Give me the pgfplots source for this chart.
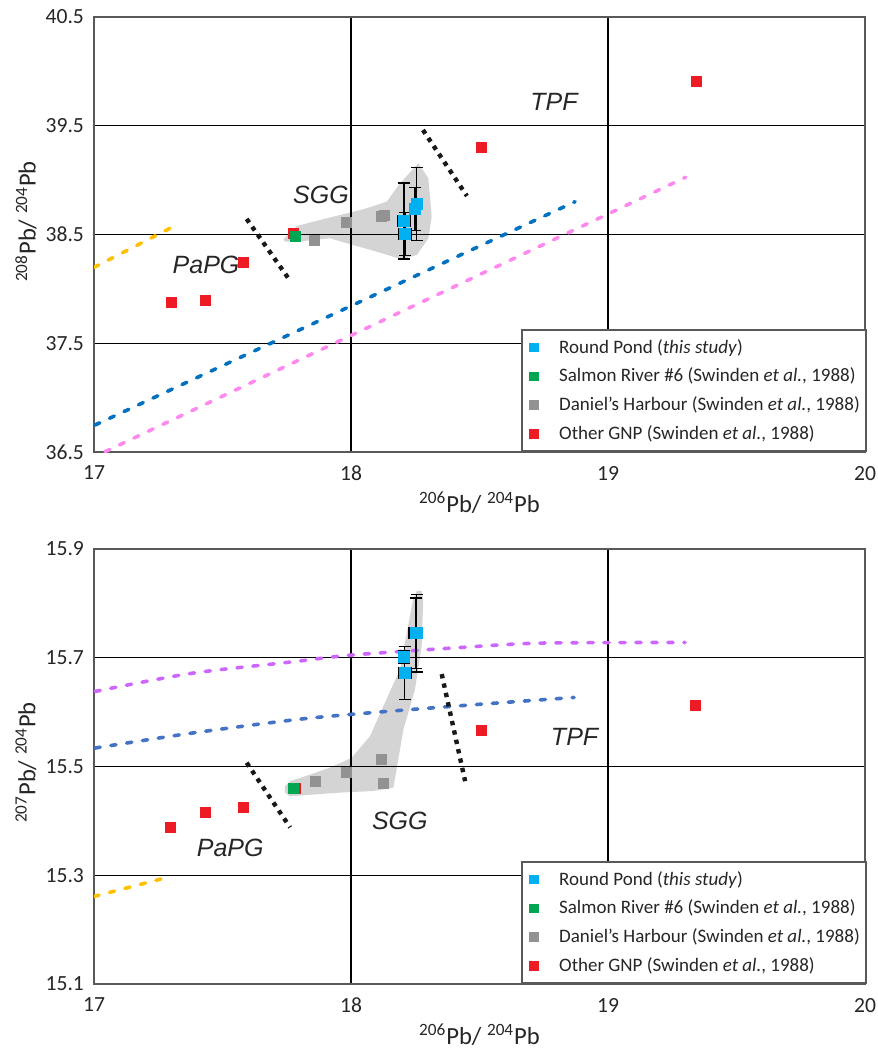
\documentclass[border=0pt]{standalone}
\usepackage{pgfplots}
\pgfplotsset{compat=1.18}
\usepackage{fontspec}
\setmainfont{Carlito}
\newfontfamily\arialf{Liberation Sans}
\definecolor{rpblue}{RGB}{0,176,240}
\definecolor{srgreen}{RGB}{0,166,81}
\definecolor{dhgray}{RGB}{146,146,146}
\definecolor{gnpred}{RGB}{237,28,36}
\definecolor{lblue}{RGB}{0,112,192}
\definecolor{lpink}{RGB}{255,136,238}
\definecolor{lpurple}{RGB}{204,102,255}
\definecolor{lblue2}{RGB}{68,114,196}
\definecolor{lorange}{RGB}{255,192,0}
\tikzset{lab/.style={font=\arialf\itshape\fontsize{12.5}{15}\selectfont, text=black!85}}
\pgfplotsset{
  myaxis/.style={
    scale only axis, width=385.5pt, height=217.5pt,
    xmin=17, xmax=20, xtick={17,18,19,20},
    axis line style={draw=black!65, line width=0.8pt},
    grid=major, major grid style={black, line width=0.6pt},
    major tick length=0pt,
    tick style={draw=none},
    ticklabel style={font=\fontsize{10.8}{13}\selectfont, text=black!85},
    xticklabel style={yshift=-3.5pt},
    yticklabel style={xshift=-1.5pt},
    /pgf/number format/assume math mode=true,
    /pgf/number format/fixed, /pgf/number format/precision=1,
    xlabel style={at={(axis description cs:0.5,0)}, anchor=center, yshift=-25.5pt, font=\fontsize{12.3}{14}\selectfont, text=black!85},
    ylabel style={at={(axis description cs:0,0.5)}, anchor=center, yshift=34pt, font=\fontsize{12.3}{14}\selectfont, text=black!85},
    xlabel={\textsuperscript{206}Pb/ \textsuperscript{204}Pb},
    legend style={at={(1.002,0)}, anchor=south east, draw=black!65, line width=0.8pt,
      font=\fontsize{9.5}{11.5}\selectfont, text=black!85, cells={anchor=west}, row sep=1.9pt,
      inner xsep=1pt, inner ysep=2.5pt},
    legend image code/.code={\path[draw=none] (0,0) -- (15.5pt,0); \draw[#1] plot coordinates {(5pt,0)};},
    clip=true,
  },
  bnd/.style={black!90, line width=2.2pt, dash pattern=on 2.2pt off 2.6pt},
  dl/.style={line width=1.8pt, line cap=round, dash pattern=on 2.6pt off 5.4pt},
  mpt/.style={only marks, mark=square*, mark size=2.5pt, forget plot},
  eb/.style={only marks, mark=square*, mark size=2.7pt, color=rpblue, forget plot,
    error bars/.cd, x dir=both, x explicit, y dir=both, y explicit,
    error mark=-,
    error bar style={black, line width=0.6pt}, error mark options={rotate=90, black, mark size=3pt, line width=0.6pt}},
}
\begin{document}
\begin{tikzpicture}
\useasboundingbox (0,0) rectangle (438.5pt,-526.5pt);
% ---------------- TOP ----------------
\begin{axis}[myaxis, at={(47pt,-226pt)}, anchor=south west,
  ymin=36.5, ymax=40.5, ytick={36.5,37.5,38.5,39.5,40.5},
  ylabel style={xshift=6.5pt},
  ylabel={\textsuperscript{208}Pb/ \textsuperscript{204}Pb}]
\addplot[fill=black, fill opacity=0.17, draw=none, forget plot] coordinates {
(17.737,38.456) (17.789,38.578) (17.905,38.649) (18.048,38.732) (18.139,38.802)
(18.191,38.971) (18.262,39.155) (18.301,39.017) (18.314,38.664) (18.301,38.465)
(18.256,38.312) (18.197,38.272) (18.100,38.342) (18.009,38.403) (17.918,38.465)
(17.828,38.443) (17.743,38.434)} -- cycle;
\addplot[dl, lorange, forget plot] coordinates {(17.0,38.198) (17.296,38.557)};
\addplot[dl, lblue, forget plot] coordinates {(17.004,36.748) (18.872,38.802)};
\addplot[dl, lpink, forget plot] coordinates {(17.043,36.503) (19.302,39.026)};
\addplot[bnd, forget plot] coordinates {(17.594,38.643) (17.763,38.075)};
\addplot[bnd, forget plot] coordinates {(18.280,39.461) (18.451,38.854)};
\addplot[mpt, gnpred] coordinates {(17.300,37.88) (17.432,37.89) (17.580,38.24) (17.774,38.514) (18.506,39.30) (19.342,39.91)};
\addplot[mpt, dhgray] coordinates {(17.856,38.45) (17.984,38.61) (18.120,38.665) (18.128,38.68)};
\addplot[mpt, srgreen] coordinates {(17.782,38.486)};
\addplot[eb] table[x=x,y=y,x error=ex,y error=ey] {
x y ex ey
18.206 38.624 0.025 0.35
18.210 38.505 0.025 0.20
18.249 38.734 0.020 0.20
18.256 38.780 0.020 0.335
};
\node[lab] at (axis cs:18.79,39.72) {TPF};
\node[lab] at (axis cs:17.883,38.86) {SGG};
\node[lab] at (axis cs:17.436,38.22) {PaPG};
\addlegendimage{only marks, mark=square*, mark size=2pt, rpblue}
\addlegendentry{Round Pond (\textit{this study})}
\addlegendimage{only marks, mark=square*, mark size=2pt, srgreen}
\addlegendentry{Salmon River \#6 (Swinden \textit{et al.}, 1988)}
\addlegendimage{only marks, mark=square*, mark size=2pt, dhgray}
\addlegendentry{Daniel’s Harbour (Swinden \textit{et al.}, 1988)}
\addlegendimage{only marks, mark=square*, mark size=2pt, gnpred}
\addlegendentry{Other GNP (Swinden \textit{et al.}, 1988)}
\end{axis}
% ---------------- BOTTOM ----------------
\begin{axis}[myaxis, at={(47pt,-492pt)}, anchor=south west,
  ymin=15.1, ymax=15.9, ytick={15.1,15.3,15.5,15.7,15.9},
  ylabel style={xshift=2pt},
  ylabel={\textsuperscript{207}Pb/ \textsuperscript{204}Pb}]
\addplot[fill=black, fill opacity=0.17, draw=none, forget plot] coordinates {
(17.743,15.4637) (17.763,15.473) (17.840,15.485) (17.918,15.498) (18.003,15.516)
(18.074,15.556) (18.126,15.611) (18.191,15.679) (18.217,15.746) (18.242,15.808)
(18.256,15.823) (18.275,15.823) (18.281,15.808) (18.275,15.722) (18.249,15.642)
(18.204,15.568) (18.165,15.461) (18.087,15.455) (17.957,15.452) (17.840,15.448)
(17.763,15.445) (17.743,15.452)} -- cycle;
\addplot[dl, lorange, forget plot] coordinates {(17.0,15.261) (17.26,15.293)};
\addplot[dl, lblue2, forget plot, smooth] coordinates {(17.004,15.534) (17.374,15.561) (17.763,15.585) (18.003,15.596) (18.431,15.612) (18.868,15.627)};
\addplot[dl, lpurple, forget plot, smooth] coordinates {(17.004,15.638) (17.374,15.671) (17.763,15.692) (18.003,15.705) (18.431,15.719) (18.742,15.727) (19.300,15.728)};
\addplot[bnd, forget plot] coordinates {(17.594,15.507) (17.763,15.388)};
\addplot[bnd, forget plot] coordinates {(18.353,15.670) (18.444,15.473)};
\addplot[mpt, gnpred] coordinates {(17.296,15.388) (17.432,15.415) (17.580,15.424) (17.782,15.46) (18.506,15.566) (19.342,15.612)};
\addplot[mpt, dhgray] coordinates {(17.860,15.472) (17.984,15.489) (18.120,15.513) (18.128,15.469)};
\addplot[mpt, srgreen] coordinates {(17.774,15.46)};
\addplot[eb] table[x=x,y=y,x error=ex,y error=ey] {
x y ex ey
18.206 15.7015 0.020 0.012
18.209 15.672 0.025 0.049
18.251 15.745 0.025 0.065
18.256 15.745 0.020 0.071
};
\node[lab] at (axis cs:18.87,15.555) {TPF};
\node[lab] at (axis cs:18.19,15.40) {SGG};
\node[lab] at (axis cs:17.53,15.35) {PaPG};
\addlegendimage{only marks, mark=square*, mark size=2pt, rpblue}
\addlegendentry{Round Pond (\textit{this study})}
\addlegendimage{only marks, mark=square*, mark size=2pt, srgreen}
\addlegendentry{Salmon River \#6 (Swinden \textit{et al.}, 1988)}
\addlegendimage{only marks, mark=square*, mark size=2pt, dhgray}
\addlegendentry{Daniel’s Harbour (Swinden \textit{et al.}, 1988)}
\addlegendimage{only marks, mark=square*, mark size=2pt, gnpred}
\addlegendentry{Other GNP (Swinden \textit{et al.}, 1988)}
\end{axis}
\end{tikzpicture}
\end{document}
